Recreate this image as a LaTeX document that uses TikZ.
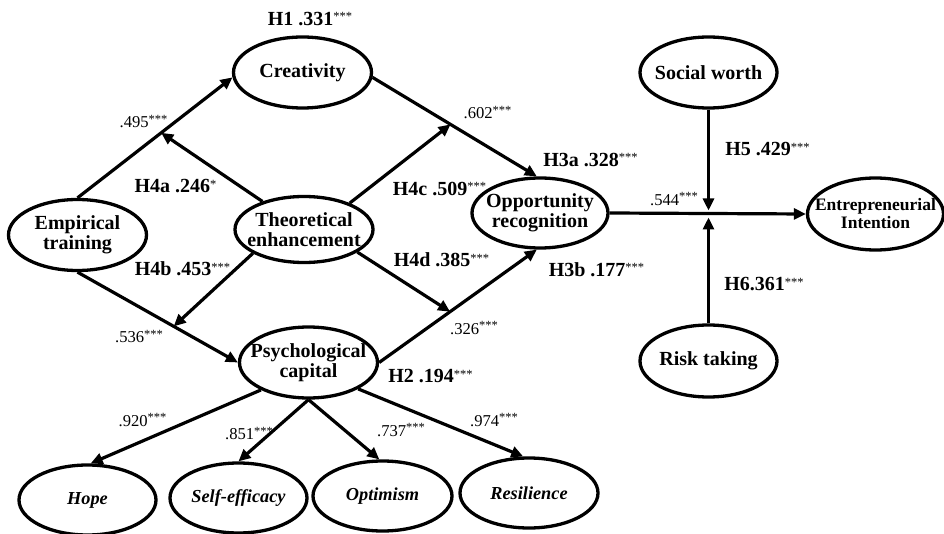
\documentclass[tikz,border=0pt]{standalone}
\usepackage{fontspec}
\setmainfont{Liberation Serif}
\usetikzlibrary{shapes.geometric,arrows.meta,calc}
\newcommand{\sg}[1]{\raisebox{4.5pt}{\fontsize{12.5}{12.5}\selectfont\mdseries\upshape #1}}
\begin{document}
\begin{tikzpicture}[x=1pt,y=-1pt,
  ell/.style={ellipse, draw, line width=3.3pt, minimum width=138pt, minimum height=71pt, inner sep=0pt},
  nt/.style={font=\fontsize{20}{20}\selectfont\bfseries, align=center, inner sep=0pt},
  ntsmall/.style={font=\fontsize{17.5}{18}\selectfont\bfseries, align=center, inner sep=0pt},
  it/.style={font=\fontsize{18.3}{18}\selectfont\bfseries\itshape, inner sep=0pt},
  arr/.style={line width=3.2pt, -{Triangle[length=12pt,width=11pt]}},
  hl/.style={font=\fontsize{20}{20}\selectfont\bfseries, inner sep=0pt},
  cl/.style={font=\fontsize{16.6}{16.6}\selectfont, inner sep=0pt}]
\useasboundingbox (0,0) rectangle (944,534);

% latent variable nodes
\node[ell, label={[nt]center:{Empirical\\training}}] (emp) at (77.5,235) {};
\node[ell, label={[nt]center:Creativity}] (cre) at (302.5,72.5) {};
\node[ell, minimum height=66pt, label={[nt]center:{Theoretical\\enhancement}}] (the) at (304,229.5) {};
\node[ell, minimum width=136pt, minimum height=70pt, label={[nt]center:{Opportunity\\recognition}}] (opp) at (540,213) {};
\node[ell, minimum width=137pt, label={[nt]center:Social worth}] (soc) at (708.5,72.5) {};
\node[ell, minimum width=136pt, minimum height=72pt, label={[ntsmall]center:{Entrepreneurial\\Intention}}] (ent) at (875.5,214) {};
\node[ell, minimum width=137pt, minimum height=72pt, label={[nt]center:Risk taking}] (risk) at (708.5,361) {};
\node[ell, label={[nt]center:{Psychological\\capital}}] (psy) at (308.5,362.5) {};
\node[ell, minimum width=137pt, minimum height=70pt, label={[it]center:Hope}] (hope) at (87.5,500) {};
\node[ell, minimum width=137pt, minimum height=70pt, label={[it]center:Self-efficacy}] (self) at (238.5,498) {};
\node[ell, minimum width=139pt, minimum height=70pt, label={[it]center:Optimism}] (opt) at (382.5,496) {};
\node[ell, minimum width=138pt, minimum height=70pt, label={[it]center:Resilience}] (res) at (529,493) {};

% main paths
\draw[arr] (emp.north) -- (cre.184);
\draw[arr] (cre.-4) -- (opp.95);
\draw[arr] (emp.south) -- (psy.west);
\draw[arr] (psy.east) -- (opp.265);

% moderating paths
\coordinate (c1) at ($(emp.north)!0.54!(cre.184)$);
\coordinate (c2) at ($(cre.-4)!0.475!(opp.95)$);
\coordinate (c3) at ($(emp.south)!0.6!(psy.west)$);
\coordinate (c4) at ($(psy.east)!0.45!(opp.265)$);
\draw[arr] (the.146) -- (c1);
\draw[arr] (the.30) -- (c2);
\draw[arr] (the.205) -- (c3);
\draw[arr] (the.337) -- (c4);

% outcome
\draw[arr] (opp.east) -- (ent.west);
\coordinate (j) at ($(opp.east)!0.5!(ent.west)$);
\draw[arr, shorten >=3pt] (soc.south) -- (soc.south |- j);
\draw[arr, shorten >=4pt] (risk.north) -- (risk.north |- j);

% indicators
\draw[arr] (psy.210) -- (hope.85);
\draw[arr] (psy.south) -- (self.north);
\draw[arr] (psy.south) -- (opt.95);
\draw[arr] (psy.332) -- (res.99);

% labels
\node[hl] (l1) at (310,19) {H1 .331\sg{***}};
\node[cl] (l2) at (143.5,121.5) {.495\sg{***}};
\node[hl] (l3) at (175.5,186.5) {H4a .246\sg{*}};
\node[hl] (l4) at (439.5,188.5) {H4c .509\sg{***}};
\node[cl] (l5) at (487.5,112.5) {.602\sg{***}};
\node[hl] (l6) at (590.5,159.5) {H3a .328\sg{***}};
\node[hl] (l7) at (767.5,149.5) {H5 .429\sg{***}};
\node[cl] (l8) at (674,199) {.544\sg{***}};
\node[hl] (l9) at (182.5,269) {H4b .453\sg{***}};
\node[hl] (l10) at (441.5,260) {H4d .385\sg{***}};
\node[hl] (l11) at (596.5,269.5) {H3b .177\sg{***}};
\node[hl] (l12) at (764,284.5) {H6.361\sg{***}};
\node[cl] (l13) at (139,336.5) {.536\sg{***}};
\node[cl] (l14) at (474,328) {.326\sg{***}};
\node[hl] (l15) at (430.5,376.5) {H2 .194\sg{***}};
\node[cl] (l16) at (142.5,420) {.920\sg{***}};
\node[cl] (l17) at (249,433.5) {.851\sg{***}};
\node[cl] (l18) at (401,430) {.737\sg{***}};
\node[cl] (l19) at (494,420) {.974\sg{***}};
\end{tikzpicture}
\end{document}
